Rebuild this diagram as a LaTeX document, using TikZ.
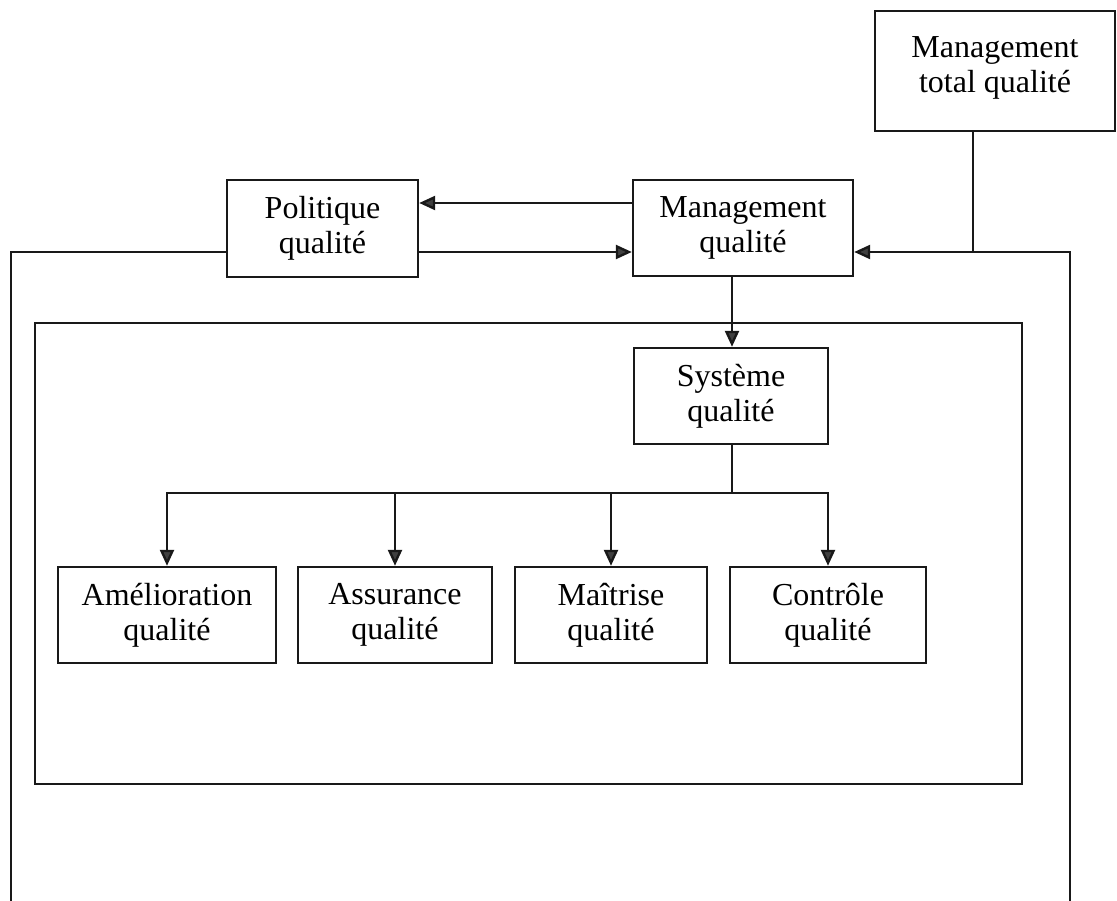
\documentclass[tikz,border=0pt]{standalone}
\usepackage{fontspec}
\setmainfont{Liberation Serif}
\usetikzlibrary{arrows.meta}
\begin{document}
\begin{tikzpicture}[x=1pt,y=-1pt,
  line width=2.4pt, draw=black!90,
  box/.style={draw, rectangle, align=center, inner sep=0pt,
    font=\fontsize{32}{35}\selectfont, minimum height=96pt},
  arr/.style={-{Triangle[length=16pt,width=14pt,fill=black!75]}},
  frame/.style={line width=2.4pt}]
\useasboundingbox (0,0) rectangle (1117,901);

% boxes
\node[box, minimum width=240pt, minimum height=120pt] (mtq) at (995,71) {Management\\total qualité\\[-23pt]};
\node[box, minimum width=191pt, minimum height=97pt] (pol) at (322.5,228.5) {Politique\\qualité};
\node[box, minimum width=220pt] (mq) at (743,228) {Management\\qualité};
\node[box, minimum width=194pt] (sys) at (731,396) {Système\\qualité};
\node[box, minimum width=218pt] (ame) at (167,615) {Amélioration\\qualité};
\node[box, minimum width=194pt] (ass) at (395,615) {Assurance\\qualité};
\node[box, minimum width=192pt] (mai) at (611,615) {Maîtrise\\qualité};
\node[box, minimum width=196pt] (con) at (828,615) {Contrôle\\qualité};

% inner frame
\draw[frame] (35,323) rectangle (1022,784);

% helper points
\coordinate (tl) at (11,252);
\coordinate (tr) at (1070,252);
\coordinate (bl) at (11,901);
\coordinate (br) at (1070,901);
\coordinate (jn) at (973,252);
\coordinate (up) at (0,203);
\coordinate (sx) at (732,0);
\coordinate (br0) at (732,493);

% outer frame, open at the bottom
\draw[frame] (bl) -- (tl) -- (pol.west |- tl);
\draw[frame,arr] (br) -- (tr) -- (mq.east |- tr);
\draw (mtq.south -| jn) -- (jn);

% links between Politique and Management qualite
\draw[arr] (mq.west |- up) -- (pol.east |- up);
\draw[arr] (pol.east |- tl) -- (mq.west |- tl);

% down to the quality system
\draw[arr] (mq.south -| sx) -- (sys.north -| sx);

% branching to the four activities
\draw (sys.south -| sx) -- (br0);
\draw[arr] (br0) -| (ame.north);
\draw[arr] (br0) -| (con.north);
\foreach \n in {ass,mai}
  \draw[arr] (\n.north |- br0) -- (\n.north);
\end{tikzpicture}
\end{document}
